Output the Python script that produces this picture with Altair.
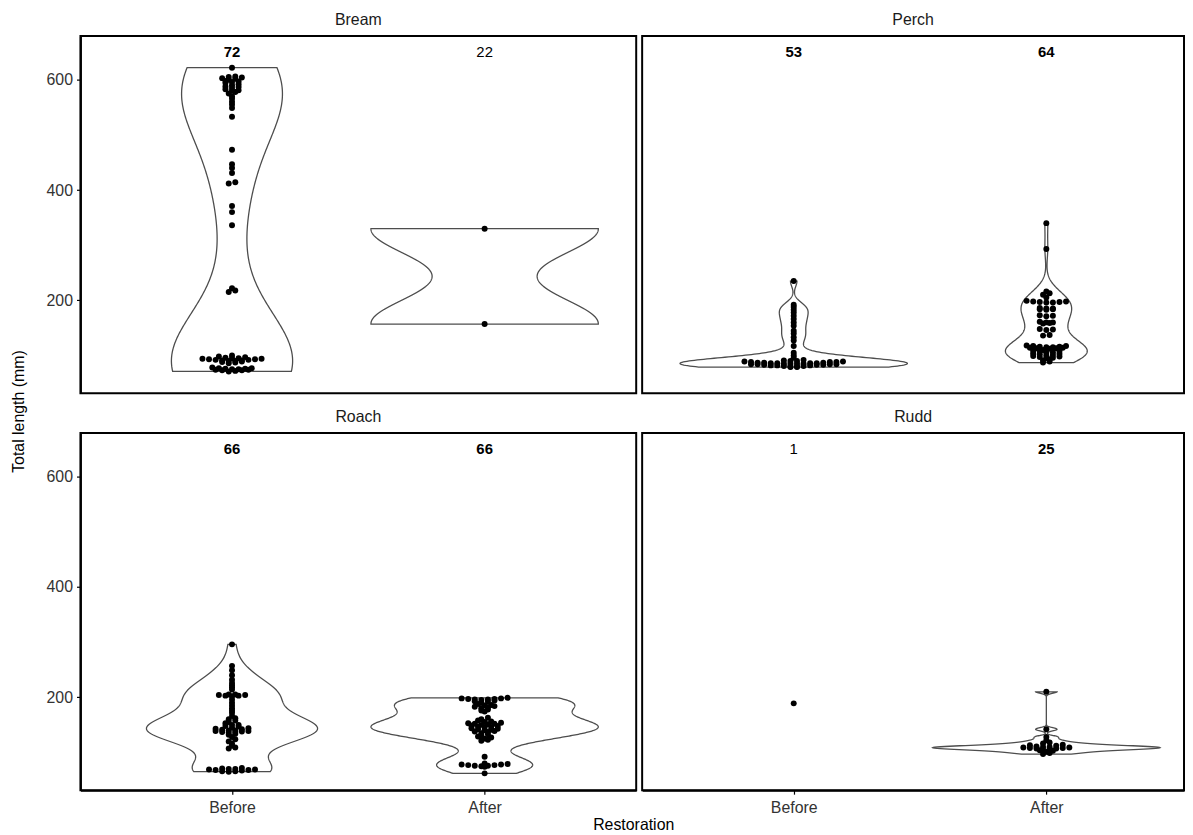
import altair as alt
import pandas as pd

FONT = "Liberation Sans"

SPECIES = ["Bream", "Perch", "Roach", "Rudd"]
PERIODS = ["Before", "After"]

bream_before = [622, 606, 605, 604, 603, 602, 600, 598, 597, 596, 594, 592, 590, 588,
                587, 585, 583, 581, 580, 578, 575, 570, 566, 560, 555, 549, 533,
                473, 447, 440, 431, 414, 412, 371, 360, 336,
                222, 218, 215,
                100, 98, 97, 96, 95, 95, 94, 94, 93, 93, 92, 92, 91, 91, 90, 90, 89, 88,
                87, 86, 78, 77, 77, 76, 76, 75, 75, 74, 74, 73, 73, 72, 71]
bream_after = [330, 157]

perch_before = [235, 192, 188, 183, 178, 172, 166, 160, 154, 145, 140, 133, 127, 117,
                105, 100, 96,
                92, 91, 90, 90, 89, 89, 88, 88, 88, 87, 87, 87, 86, 86, 86, 86, 85, 85,
                85, 85, 84, 84, 84, 84, 83, 83, 83, 82, 82, 82, 81, 81, 80, 80, 79, 79]
perch_after = [340, 293,
               216, 213, 210, 205, 199, 198, 198, 197, 197, 196, 196, 186, 185, 185,
               184, 184, 183, 173, 172, 171, 161, 160, 160, 159, 158, 148, 147, 146,
               137, 136,
               118, 117, 117, 116, 116, 115, 115, 114, 114, 113, 113, 112, 110, 109,
               108, 107, 106, 105, 104, 103, 102, 101, 100, 99, 98, 97, 96, 95, 93,
               91, 89, 87]

roach_before = [296, 257, 249, 240, 232, 226, 222, 218, 214,
                205, 205, 204, 204, 203, 203, 202,
                196, 190, 185, 180, 176, 172,
                166, 162, 160, 158, 155, 153, 150, 150, 148, 147,
                145, 144, 143, 142, 141, 140, 140, 139, 139, 138, 137, 137, 136, 134, 132,
                128, 124, 120, 116, 112, 109, 107,
                72, 71, 70, 70, 69, 69, 68, 68, 67, 66, 66, 65]
roach_after = [199, 198, 198, 197, 197, 196, 196, 195, 194, 193, 192, 190, 188, 186,
               185, 184, 183, 182, 180, 178, 176, 174,
               163, 160, 158, 156, 155, 154, 153, 152, 152, 151, 150, 149, 148, 147,
               146, 145, 144, 143, 142, 141, 140, 139, 138, 137, 135, 133, 131, 129,
               127, 125, 123, 121,
               92, 80, 79, 78, 78, 77, 77, 76, 76, 75, 74, 62]

rudd_before = [189]
rudd_after = [210, 142, 128, 122, 118, 116, 114, 113, 112, 111, 110, 110, 109, 109,
              108, 108, 107, 107, 106, 105, 104, 103, 101, 99, 97]

label_species = ["Bream", "Bream", "Perch", "Perch", "Roach", "Roach", "Rudd", "Rudd"]
label_period = ["Before", "After", "Before", "After", "Before", "After", "Before", "After"]
label_text = ["72", "22", "53", "64", "66", "66", "1", "25"]
label_bold = [True, False, True, True, True, True, False, True]

groups = [
    ("Bream", "Before", bream_before), ("Bream", "After", bream_after),
    ("Perch", "Before", perch_before), ("Perch", "After", perch_after),
    ("Roach", "Before", roach_before), ("Roach", "After", roach_after),
    ("Rudd", "Before", rudd_before), ("Rudd", "After", rudd_after),
]
rows = []
for sp, per, vals in groups:
    for v in vals:
        rows.append({"species": sp, "period": per, "pos": PERIODS.index(per) + 1, "length": v})
df = pd.DataFrame(rows)

lab = pd.DataFrame({
    "species": label_species,
    "period": label_period,
    "pos": [PERIODS.index(p) + 1 for p in label_period],
    "text": label_text,
    "bold": label_bold,
})

N = 256
DX = 0.026
YDOM = [31.5, 679.5]
FS = 16


def panel(sp, width, xmax, left, bottom, ytitle=False, xtitle=False):
    xscale = alt.Scale(domain=[0.4, xmax], nice=False, zero=False)
    yscale = alt.Scale(domain=YDOM, nice=False, zero=False)
    if bottom:
        if xtitle:
            xaxis = alt.Axis(values=[1, 2], labelExpr="datum.value == 1 ? 'Before' : 'After'",
                             title="Restoration",
                             titleX=557, titleY=35, titleBaseline="middle", titleAnchor="middle",
                             labelPadding=5)
        else:
            xaxis = alt.Axis(values=[1, 2], labelExpr="datum.value == 1 ? 'Before' : 'After'",
                             title=None, labelPadding=5)
    else:
        xaxis = None
    if left:
        if ytitle:
            yaxis = alt.Axis(values=[200, 400, 600], title="Total length (mm)",
                             titleX=-62, titleY=378, titleAngle=270, titleBaseline="middle",
                             titleAlign="center", labelPadding=4)
        else:
            yaxis = alt.Axis(values=[200, 400, 600], title=None, labelPadding=4)
    else:
        yaxis = None

    base = alt.Chart(df).transform_filter(alt.datum.species == sp)

    violin = (
        base.transform_joinaggregate(
            n="count(length)", sd="stdev(length)", q1="q1(length)", q3="q3(length)",
            lo="min(length)", hi="max(length)", groupby=["period"])
        .transform_filter("datum.n >= 2")
        .transform_calculate(iqrs="(datum.q3 - datum.q1) / 1.34")
        .transform_calculate(
            bw="0.9 * (min(datum.sd, datum.iqrs) > 0 ? min(datum.sd, datum.iqrs) : datum.sd) * pow(datum.n, -0.2)")
        .transform_calculate(step=f"sequence(0, {N})")
        .transform_flatten(["step"])
        .transform_calculate(g=f"datum.lo + datum.step * (datum.hi - datum.lo) / {N - 1}")
        .transform_calculate(
            k="exp(-0.5 * pow((datum.g - datum.length) / datum.bw, 2)) / (datum.bw * sqrt(2 * PI) * datum.n)")
        .transform_aggregate(dens="sum(k)", groupby=["period", "pos", "step", "g"])
        .transform_joinaggregate(maxd="max(dens)")
        .transform_calculate(xl="datum.pos - 0.45 * datum.dens / datum.maxd",
                             xr="datum.pos + 0.45 * datum.dens / datum.maxd")
        .mark_area(orient="horizontal", strokeWidth=1.3)
        .encode(
            y=alt.Y("g:Q", scale=yscale, axis=yaxis),
            x=alt.X("xl:Q", scale=xscale, axis=xaxis, stack=None),
            x2="xr:Q",
            detail="period:N",
            fill=alt.value("white"),
            stroke=alt.value("#4d4d4d"),
        )
    )

    points = (
        base.transform_calculate(yb="floor(datum.length / 5)")
        .transform_window(k="row_number()", groupby=["period", "yb"], sort=[alt.SortField("length")])
        .transform_joinaggregate(cnt="count(length)", groupby=["period", "yb"])
        .transform_calculate(j="datum.k % 2 == 0 ? datum.k / 2 : -(datum.k - 1) / 2")
        .transform_calculate(xs=f"datum.pos + (datum.j - (datum.cnt % 2 == 0 ? 0.5 : 0)) * {DX}")
        .mark_circle(size=36, color="black", opacity=1)
        .encode(
            y=alt.Y("length:Q", scale=yscale, axis=yaxis),
            x=alt.X("xs:Q", scale=xscale, axis=xaxis),
        )
    )

    lb = alt.Chart(lab).transform_filter((alt.datum.species == sp) & alt.datum.bold)
    tbold = lb.mark_text(font=FONT, fontSize=15, fontWeight="bold", color="black",
                         baseline="middle").encode(
        x=alt.X("pos:Q", scale=xscale, axis=xaxis), y=alt.datum(650), text="text:N")
    ln = alt.Chart(lab).transform_filter((alt.datum.species == sp) & (~alt.datum.bold))
    tnorm = ln.mark_text(font=FONT, fontSize=15, fontWeight="normal", color="black",
                         baseline="middle").encode(
        x=alt.X("pos:Q", scale=xscale, axis=xaxis), y=alt.datum(650), text="text:N")

    return alt.layer(violin, points, tbold, tnorm).properties(
        width=width, height=360,
        title=alt.TitleParams(sp, font=FONT, fontSize=FS, fontWeight="normal",
                              color="#1a1a1a", offset=8),
    )


p1 = panel("Bream", 560, 2.6, True, False, ytitle=True)
p2 = panel("Perch", 546, 2.545, False, False)
p3 = panel("Roach", 560, 2.6, True, True, xtitle=True)
p4 = panel("Rudd", 546, 2.545, False, True)

chart = (
    alt.concat(p1, p2, p3, p4, columns=2, spacing={"row": 40, "column": 6}, bounds="flush")
    .properties(padding={"left": 2, "top": 0, "right": 0, "bottom": 0}, background="white")
    .configure_view(stroke="black", strokeWidth=2)
    .configure_axis(
        domainColor="black", domainWidth=2, tickColor="black", tickWidth=1.2, tickSize=4,
        labelColor="#333333", labelFont=FONT, labelFontSize=FS,
        titleFont=FONT, titleFontSize=FS, titleColor="black", titleFontWeight="normal",
        grid=False,
    )
)

chart.save("out.html", embed_options={"renderer": "svg", "actions": False})
